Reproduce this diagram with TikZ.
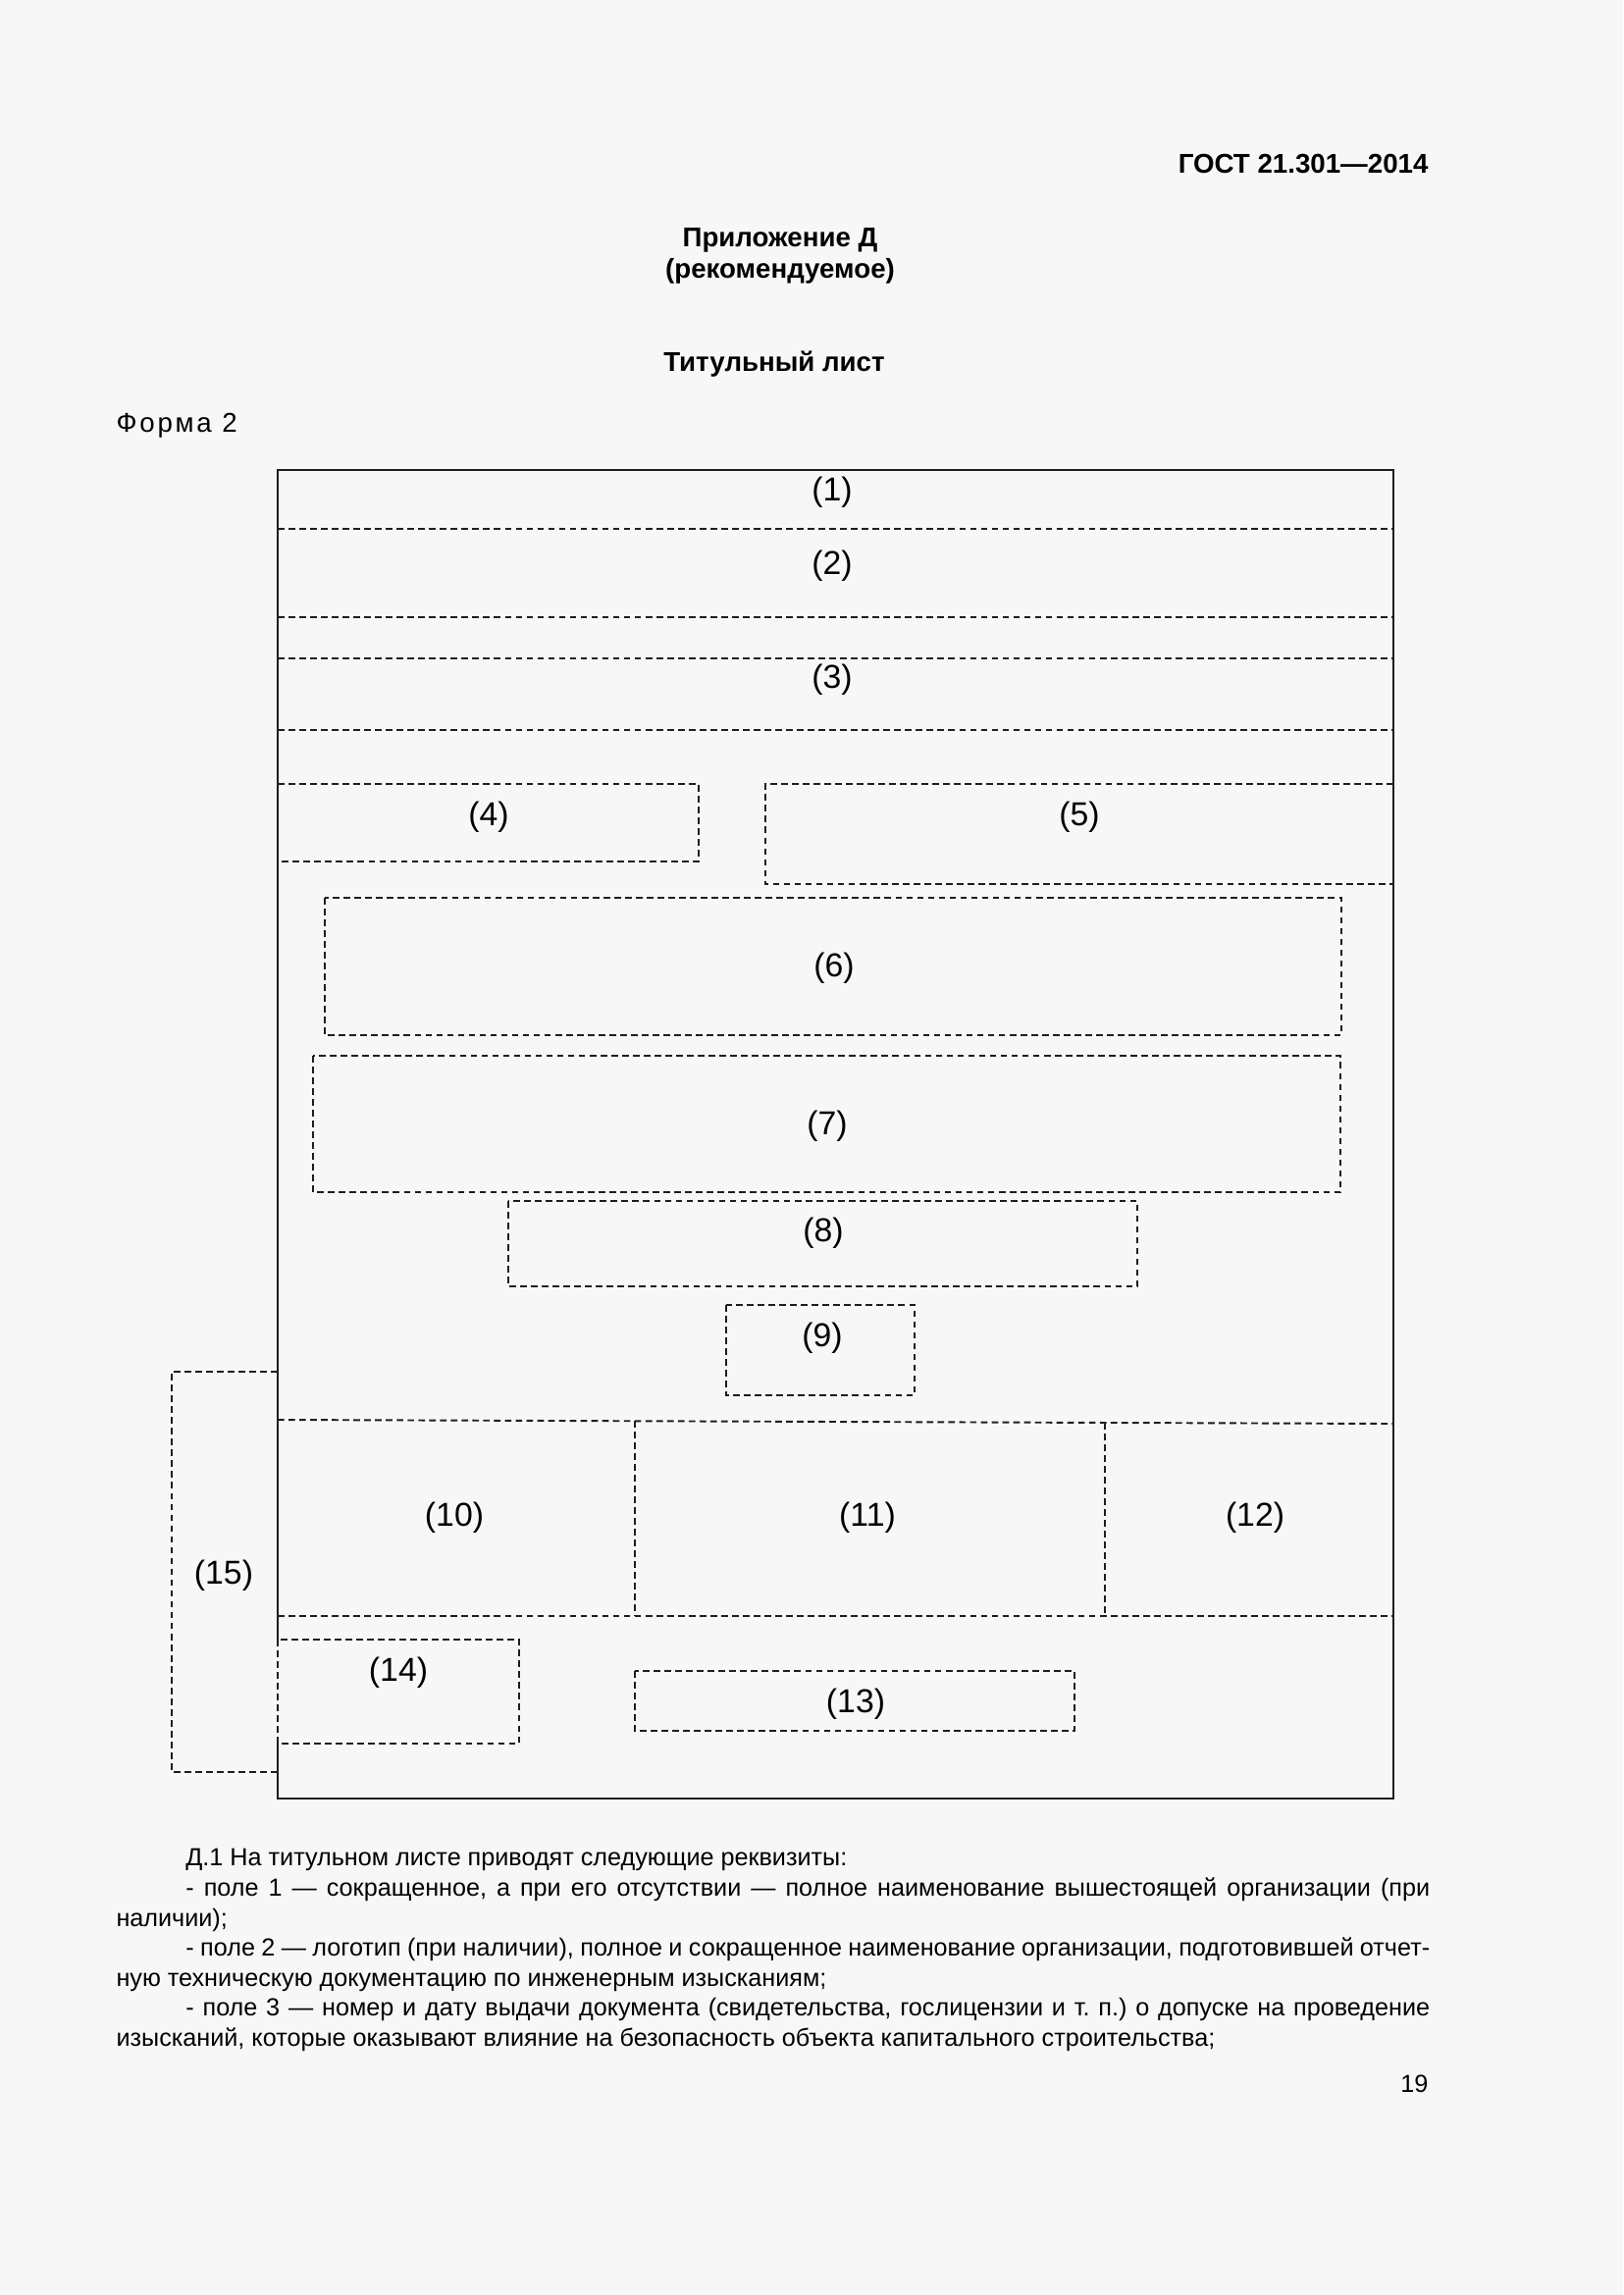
\documentclass[tikz,border=0pt]{standalone}
\usepackage{fontspec}
\setmainfont{Liberation Sans}
\usetikzlibrary{positioning}
\definecolor{pagebg}{RGB}{247,247,247}
\definecolor{ink}{RGB}{30,30,30}
\frenchspacing

\begin{document}
\begin{tikzpicture}[x=0.127mm,y=-0.127mm,
  fld/.style={draw=ink,line width=0.7pt,dash pattern=on 0.85mm off 0.55mm},
  lbl/.style={font=\fontsize{12.2}{14}\selectfont,inner sep=0pt},
  hd/.style={font=\fontsize{10}{12}\selectfont\bfseries,inner sep=0pt},
  txt/.style={font=\fontsize{9.1}{11.06}\selectfont,inner sep=0pt}]
\fill[pagebg] (0,0) rectangle (1654,2339);
\useasboundingbox (0,0) rectangle (1654,2339);
% heading
\node[hd,anchor=east] (gost) at (1456,167) {ГОСТ 21.301—2014};
\node[hd] (app) at (795,245) {Приложение Д};
\node[hd] (rec) at (795,276) {(рекомендуемое)};
\node[hd] (title) at (789,371) {Титульный лист};
\node[font=\fontsize{10}{12}\selectfont,inner sep=0pt,anchor=west] (form) at (118,434) {\addfontfeature{LetterSpace=10}Форма 2};
% frame
\draw[ink,line width=0.9pt] (283,1671) -- (283,479) -- (1420,479) -- (1420,1833) -- (283,1833) -- (283,1777);
\draw[fld] (283,539) -- (1420,539);
\draw[fld] (283,629) -- (1420,629);
\draw[fld] (283,671) -- (1420,671);
\draw[fld] (283,744) -- (1420,744);
\draw[fld] (283,799) -- (712,799) -- (712,878) -- (283,878);
\draw[fld] (1420,799) -- (780,799) -- (780,901) -- (1420,901);
\draw[fld] (331,915) rectangle (1367,1055);
\draw[fld] (319,1076) rectangle (1366,1215);
\draw[fld] (518,1224) rectangle (1159,1311);
\draw[fld] (740,1330) rectangle (932,1422);
\draw[fld] (283,1447) -- (1420,1451);
\draw[fld] (647,1448) -- (647,1647);
\draw[fld] (1126,1450) -- (1126,1647);
\draw[fld] (283,1647) -- (1420,1647);
\draw[fld] (283,1671) rectangle (529,1777);
\draw[fld] (647,1703) rectangle (1095,1764);
\draw[fld] (283,1398) -- (175,1398) -- (175,1806) -- (283,1806);
% field numbers
\node[lbl] (n1) at (848,502) {(1)};
\node[lbl] (n2) at (848,577) {(2)};
\node[lbl] (n3) at (848,693) {(3)};
\node[lbl] (n4) at (498,833) {(4)};
\node[lbl] (n5) at (1100,833) {(5)};
\node[lbl] (n6) at (850,987) {(6)};
\node[lbl] (n7) at (843,1148) {(7)};
\node[lbl] (n8) at (839,1257) {(8)};
\node[lbl] (n9) at (838,1364) {(9)};
\node[lbl] (n10) at (463,1547) {(10)};
\node[lbl] (n11) at (884,1547) {(11)};
\node[lbl] (n12) at (1279,1547) {(12)};
\node[lbl] (n13) at (872,1737) {(13)};
\node[lbl] (n14) at (406,1705) {(14)};
\node[lbl] (n15) at (228,1606) {(15)};
% notes
\node[txt,anchor=north west,text width=170mm,align=justify] (notes) at (118,1884)
{\hspace*{9mm}Д.1 На титульном листе приводят следующие реквизиты:\par
\hspace*{9mm}- поле 1 — сокращенное, а при его отсутствии — полное наименование вышестоящей организации (при\linebreak наличии);\par
\hspace*{9mm}- поле 2 — логотип (при наличии), полное и сокращенное наименование организации, подготовившей отчет-\linebreak ную техническую документацию по инженерным изысканиям;\par
\hspace*{9mm}- поле 3 — номер и дату выдачи документа (свидетельства, гослицензии и т.~п.) о допуске на проведение\linebreak изысканий, которые оказывают влияние на безопасность объекта капитального строительства;\par};
\node[txt,anchor=east] (page) at (1456,2124) {19};
\end{tikzpicture}
\end{document}
